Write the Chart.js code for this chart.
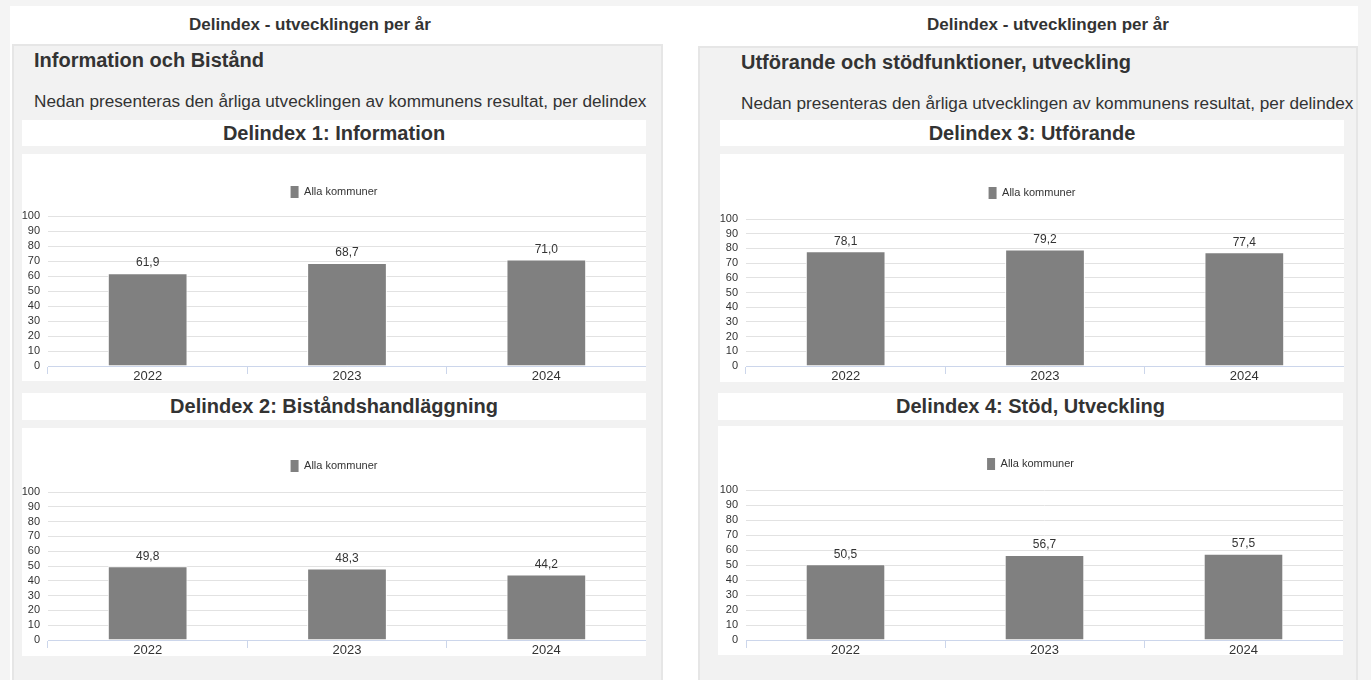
<!DOCTYPE html>
<html lang="sv">
<head>
<meta charset="utf-8">
<title>Delindex - utvecklingen per år</title>
<script src="https://cdn.jsdelivr.net/npm/chart.js@4.4.1/dist/chart.umd.min.js"></script>
<style>
  html, body { margin: 0; padding: 0; }
  body {
    position: relative;
    width: 1371px;
    height: 680px;
    overflow: hidden;
    background: #f4f4f4;
    font-family: "Liberation Sans", Arial, sans-serif;
    color: #333;
  }
  .abs { position: absolute; }
  #sheet { left: 10px; top: 6px; width: 1348px; height: 674px; background: #fff; }
  .page-head {
    top: 14px; width: 600px; height: 22px; line-height: 22px;
    font-size: 17px; font-weight: bold; text-align: center;
  }
  .panel {
    height: 640px; background: #f2f2f2;
    border: 2px solid #e6e6e6; box-sizing: border-box;
  }
  .panel-title { font-size: 20px; font-weight: bold; height: 24px; line-height: 24px; white-space: nowrap; }
  .panel-text { font-size: 17.2px; height: 22px; line-height: 22px; white-space: nowrap; }
  .chart-title { background: #fff; font-size: 20px; font-weight: bold; text-align: center; white-space: nowrap; }
  .chart-box { background: #fff; }
  .chart-box canvas { position: absolute; left: 0; top: 0; }
</style>
</head>
<body>
  <div id="sheet" class="abs"></div>

  <div class="abs page-head" style="left:10px">Delindex - utvecklingen per år</div>
  <div class="abs page-head" style="left:748px">Delindex - utvecklingen per år</div>

  <div class="abs panel" style="left:12px; top:44px; width:651px"></div>
  <div class="abs panel" style="left:698px; top:46px; width:660px"></div>

  <div class="abs panel-title" style="left:34px; top:48px">Information och Bistånd</div>
  <div class="abs panel-text" style="left:34px; top:90px">Nedan presenteras den årliga utvecklingen av kommunens resultat, per delindex</div>
  <div class="abs panel-title" style="left:741px; top:50px">Utförande och stödfunktioner, utveckling</div>
  <div class="abs panel-text" style="left:741px; top:92px">Nedan presenteras den årliga utvecklingen av kommunens resultat, per delindex</div>

  <div class="abs chart-title" style="left:22px; top:120px; width:624px; height:26px; line-height:26px">Delindex 1: Information</div>
  <div class="abs chart-box" style="left:22px; top:154px; width:624px; height:227px"><canvas id="chart1" width="624" height="230"></canvas></div>

  <div class="abs chart-title" style="left:22px; top:393px; width:624px; height:27px; line-height:27px">Delindex 2: Biståndshandläggning</div>
  <div class="abs chart-box" style="left:22px; top:428px; width:624px; height:228px"><canvas id="chart2" width="624" height="230"></canvas></div>

  <div class="abs chart-title" style="left:720px; top:120px; width:624px; height:26px; line-height:26px">Delindex 3: Utförande</div>
  <div class="abs chart-box" style="left:720px; top:154px; width:624px; height:228px"><canvas id="chart3" width="624" height="230"></canvas></div>

  <div class="abs chart-title" style="left:718px; top:393px; width:625px; height:27px; line-height:27px">Delindex 4: Stöd, Utveckling</div>
  <div class="abs chart-box" style="left:718px; top:426px; width:625px; height:229px"><canvas id="chart4" width="625" height="232"></canvas></div>

<script>
(function () {
  "use strict";

  var YEARS = ["2022", "2023", "2024"];
  var SERIES_LABEL = "Alla kommuner";

  var DELINDEX_1 = [61.9, 68.7, 71.0];
  var DELINDEX_2 = [49.8, 48.3, 44.2];
  var DELINDEX_3 = [78.1, 79.2, 77.4];
  var DELINDEX_4 = [50.5, 56.7, 57.5];

  var Y_TICKS = [0, 10, 20, 30, 40, 50, 60, 70, 80, 90, 100];

  var FONT = "'Liberation Sans', Arial, sans-serif";
  var TEXT = "#333333";
  var BAR = "#808080";

  function formatValue(v) {
    return v.toFixed(1).replace(".", ",");
  }

  // writes the value above each bar, Swedish decimal comma
  var valueLabels = {
    id: "valueLabels",
    afterDatasetsDraw: function (chart) {
      var ctx = chart.ctx;
      var meta = chart.getDatasetMeta(0);
      var values = chart.data.datasets[0].data;
      ctx.save();
      ctx.font = "12px " + FONT;
      ctx.fillStyle = TEXT;
      ctx.textAlign = "center";
      ctx.textBaseline = "bottom";
      meta.data.forEach(function (bar, i) {
        ctx.fillText(formatValue(values[i]), bar.x, bar.y - 4);
      });
      ctx.restore();
    },
  };

  // extra room between legend and plot
  function legendGap(px) {
    return {
      id: "legendGap",
      beforeInit: function (chart) {
        var fit = chart.legend.fit;
        chart.legend.fit = function () {
          fit.call(this);
          this.height += px;
        };
      },
    };
  }

  function renderChart(id, values, padTop, gap, axisWidth, axisHeight) {
    var ctx = document.getElementById(id).getContext("2d");

    new Chart(ctx, {
      type: "bar",
      data: {
        labels: YEARS,
        datasets: [
          {
            label: SERIES_LABEL,
            data: values,
            backgroundColor: BAR,
            borderColor: "#ffffff",
            borderWidth: 1,
            barPercentage: 0.4,
            categoryPercentage: 1.0,
          },
        ],
      },
      options: {
        responsive: false,
        animation: false,
        layout: { padding: { top: padTop, left: 0, right: 0, bottom: 0 } },
        plugins: {
          legend: {
            position: "top",
            labels: {
              color: TEXT,
              boxWidth: 8,
              boxHeight: 12,
              padding: 10,
              font: { family: FONT, size: 11 },
              generateLabels: function (chart) {
                return Chart.defaults.plugins.legend.labels
                  .generateLabels(chart)
                  .map(function (item) {
                    item.lineWidth = 0;
                    return item;
                  });
              },
            },
          },
          tooltip: { enabled: false },
        },
        scales: {
          x: {
            border: { color: "#ccd6eb", width: 1 },
            afterFit: function (axis) {
              axis.height = axisHeight;
            },
            grid: {
              display: true,
              drawOnChartArea: false,
              drawTicks: true,
              tickLength: 8,
              color: "#ccd6eb",
            },
            ticks: { color: TEXT, padding: -5, font: { family: FONT, size: 13 } },
          },
          y: {
            min: 0,
            max: 100,
            border: { display: false },
            afterBuildTicks: function (axis) {
              axis.ticks = Y_TICKS.map(function (v) {
                return { value: v };
              });
            },
            afterFit: function (axis) {
              axis.width = axisWidth;
            },
            grid: { color: "#e2e2e2", lineWidth: 1, drawTicks: false },
            ticks: {
              color: TEXT,
              padding: 8,
              autoSkip: false,
              font: { family: FONT, size: 11 },
            },
          },
        },
      },
      plugins: [valueLabels, legendGap(gap)],
    });
  }

  function init() {
    renderChart("chart1", DELINDEX_1, 22, 8, 26, 18);
    renderChart("chart2", DELINDEX_2, 22, 10, 26, 18);
    renderChart("chart3", DELINDEX_3, 23, 10, 26, 18);
    renderChart("chart4", DELINDEX_4, 22, 10, 28, 18);
  }

  if (document.readyState === "loading") {
    document.addEventListener("DOMContentLoaded", init);
  } else {
    init();
  }
})();
</script>
</body>
</html>
